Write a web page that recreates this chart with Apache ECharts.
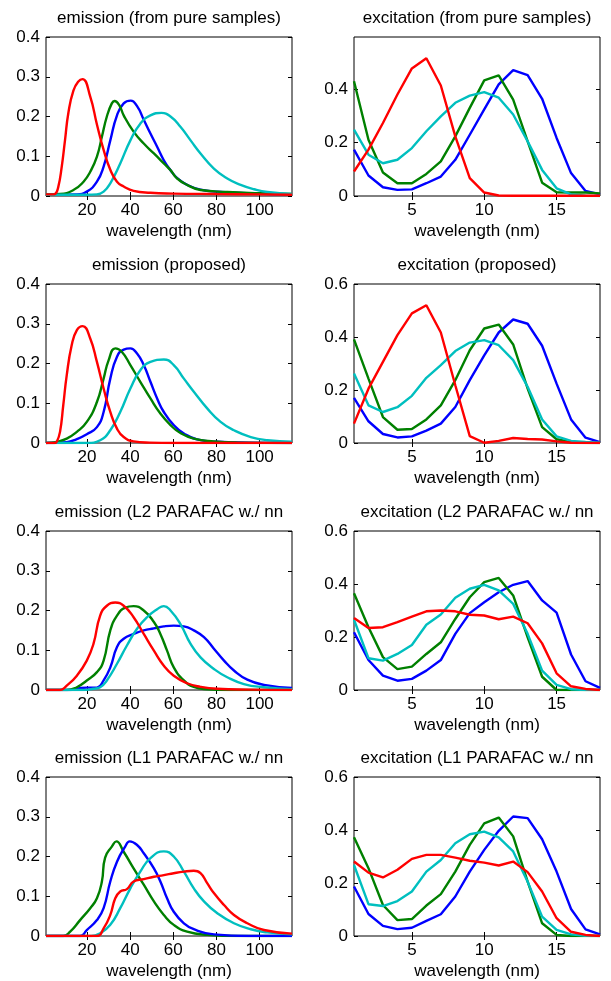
<!DOCTYPE html>
<html>
<head>
<meta charset="utf-8">
<script src="https://cdn.jsdelivr.net/npm/echarts@6/dist/echarts.min.js"></script>
<style>
html,body{margin:0;padding:0;background:#fff;}
#chart{width:611px;height:981px;}
</style>
</head>
<body>
<div id="chart"></div>
<script>
// ---------- tick labels ----------
const emTicks = [20, 40, 60, 80, 100];
const exTicks = [5, 10, 15];
const emYTicks = [0, 0.1, 0.2, 0.3, 0.4];
const exYTicks = [0, 0.2, 0.4, 0.6];
const titles = [
  'emission (from pure samples)', 'excitation (from pure samples)',
  'emission (proposed)', 'excitation (proposed)',
  'emission (L2 PARAFAC w./ nn', 'excitation (L2 PARAFAC w./ nn',
  'emission (L1 PARAFAC w./ nn', 'excitation (L1 PARAFAC w./ nn'
];
const xName = 'wavelength (nm)';

// ---------- emission data: [wavelength, value] ----------
const emPureRed = [[1,0.004],[4,0.004],[5.2,0.005],[6.7,0.023],[8.3,0.074],[9.8,0.14],[11.4,0.21],[13.7,0.265],[16,0.288],[17.9,0.294],[21.5,0.25],[24.6,0.18],[27.7,0.116],[30.8,0.066],[33.9,0.036],[37,0.024],[41.6,0.013],[49.4,0.008],[60,0.006],[80,0.005],[100,0.004],[115,0.003]];
const emPureGreen = [[1,0.004],[7.5,0.005],[13.7,0.015],[18.4,0.036],[21.5,0.061],[24.6,0.099],[26.9,0.149],[29.2,0.2],[31.5,0.233],[32.8,0.239],[35,0.228],[37,0.203],[41.6,0.162],[46.3,0.132],[51,0.107],[55.6,0.082],[58.7,0.065],[61.8,0.044],[66.4,0.028],[72.6,0.015],[85,0.01],[100,0.007],[115,0.005]];
const emPureBlue = [[1,0.003],[15,0.004],[19.9,0.011],[24.6,0.036],[27.7,0.074],[30.8,0.14],[33.9,0.203],[37,0.233],[40.3,0.24],[43.2,0.226],[46.3,0.192],[49.4,0.157],[52.5,0.124],[55.6,0.09],[58.7,0.065],[61.8,0.045],[66.4,0.028],[72.6,0.016],[80.4,0.011],[95.9,0.007],[115,0.004]];
const emPureCyan = [[1,0.003],[20,0.003],[24.6,0.004],[27.7,0.011],[30.8,0.032],[35.4,0.082],[40.1,0.14],[44.7,0.182],[49.4,0.203],[54.5,0.209],[58.7,0.2],[63.3,0.174],[68,0.14],[72.6,0.107],[78.8,0.069],[85,0.044],[91.2,0.028],[97.4,0.017],[103.6,0.01],[115,0.005]];

const emPropRed = [[1,0],[5,0],[6,0.003],[7.5,0.028],[9,0.095],[10.6,0.17],[12.9,0.246],[15.3,0.284],[18,0.294],[21.5,0.263],[24.6,0.204],[27.7,0.137],[30.8,0.078],[33.9,0.036],[37,0.015],[41.6,0.004],[49,0.001],[60,0],[115,0]];
const emPropGreen = [[1,0],[6,0.003],[10.6,0.011],[15.3,0.028],[19.9,0.053],[24.6,0.103],[27.7,0.162],[30,0.208],[33.1,0.238],[36.2,0.229],[40.1,0.196],[44.7,0.154],[49.4,0.112],[54,0.074],[58.7,0.045],[63.3,0.025],[69.5,0.011],[78.8,0.004],[90,0.001],[115,0]];
const emPropBlue = [[1,0],[10.6,0.002],[15.3,0.01],[19.9,0.022],[24.6,0.04],[27.7,0.078],[30.8,0.162],[33.9,0.217],[37,0.235],[40.1,0.238],[43.2,0.225],[46.3,0.196],[49.4,0.154],[52.5,0.112],[55.6,0.078],[60.2,0.045],[64.9,0.024],[71,0.009],[80.4,0.003],[95,0.001],[115,0]];
const emPropCyan = [[1,0],[20,0],[26.1,0.007],[30.8,0.032],[35.4,0.078],[40.1,0.137],[44.7,0.183],[49.4,0.204],[55.6,0.21],[60.2,0.196],[64.9,0.162],[69.5,0.129],[75.7,0.087],[81.9,0.053],[88.1,0.032],[95.9,0.015],[103.6,0.007],[115,0.003]];

const emL2Red = [[1,0],[7.5,0],[10.6,0.011],[15.3,0.036],[19.9,0.074],[23,0.116],[26.1,0.187],[29.2,0.212],[33.1,0.22],[37,0.212],[41.6,0.183],[46.3,0.141],[51,0.099],[55.6,0.061],[60.2,0.036],[66.4,0.017],[72.6,0.008],[80.4,0.003],[95,0.001],[115,0]];
const emL2Green = [[1,0],[10.6,0],[15.3,0.007],[19.9,0.024],[24.6,0.045],[27.7,0.074],[30.8,0.15],[33.9,0.187],[37.7,0.207],[41.6,0.211],[46.3,0.2],[51,0.171],[54,0.141],[57.1,0.099],[60.2,0.057],[64.9,0.024],[69.5,0.008],[75.7,0.002],[85,0],[115,0]];
const emL2Blue = [[1,0],[12,0],[16,0.004],[20,0.006],[24.6,0.006],[27.7,0.024],[30.8,0.057],[33.9,0.108],[37,0.129],[41.6,0.141],[46.3,0.15],[51,0.155],[55.6,0.16],[60.2,0.162],[64.9,0.16],[69.5,0.15],[74.2,0.133],[78.8,0.104],[83.5,0.074],[88.1,0.049],[94.3,0.026],[102,0.013],[115,0.005]];
const emL2Cyan = [[1,0],[18,0],[23,0.003],[26.1,0.007],[29.2,0.024],[33.9,0.066],[38.5,0.112],[43.2,0.154],[47.8,0.183],[52.5,0.203],[55.6,0.211],[58.7,0.2],[63.3,0.166],[68,0.116],[72.6,0.082],[78.8,0.053],[85,0.032],[92.7,0.015],[102,0.007],[115,0.002]];

const emL1Red = [[1,0],[24.6,0],[27.7,0.019],[30.8,0.053],[33.1,0.095],[35.4,0.112],[38.5,0.118],[41.6,0.137],[46.3,0.143],[51,0.149],[55.6,0.153],[60.2,0.158],[64.9,0.162],[69.5,0.164],[72.6,0.158],[75.7,0.133],[78.8,0.108],[83.5,0.078],[88.1,0.053],[94.3,0.032],[102,0.015],[115,0.006]];
const emL1Green = [[1,0],[9,0],[12.2,0.011],[16.8,0.04],[21.5,0.07],[24.6,0.095],[26.9,0.137],[28.4,0.197],[31.5,0.225],[33.6,0.238],[37,0.212],[41.6,0.17],[46.3,0.129],[51,0.087],[55.6,0.053],[60.2,0.028],[66.4,0.011],[75.7,0.003],[90,0],[115,0]];
const emL1Blue = [[1,0],[16.8,0],[19.9,0.015],[24.6,0.04],[27.7,0.07],[30.8,0.137],[33.9,0.187],[37.7,0.225],[39.8,0.238],[43.2,0.229],[46.3,0.208],[51,0.17],[54,0.137],[57.1,0.095],[60.2,0.061],[64.9,0.032],[69.5,0.017],[78.8,0.004],[95,0],[115,0]];
const emL1Cyan = [[1,0],[22,0],[26.1,0.007],[30.8,0.028],[35.4,0.07],[40.1,0.12],[44.7,0.162],[49.4,0.196],[55.6,0.213],[60.2,0.2],[64.9,0.162],[69.5,0.12],[74.2,0.087],[80.4,0.057],[88.1,0.032],[95.9,0.017],[103.6,0.009],[115,0.004]];

// ---------- excitation data: values at wavelengths 1..18 ----------
const exX = [1,2,3,4,5,6,7,8,9,10,11,12,13,14,15,16,17,18];
const exPureRed   = [0.092,0.174,0.274,0.381,0.479,0.517,0.415,0.224,0.067,0.013,0.002,0.001,0.001,0.001,0.001,0.001,0.001,0.001];
const exPureGreen = [0.431,0.211,0.088,0.048,0.048,0.083,0.13,0.224,0.331,0.434,0.453,0.362,0.205,0.05,0.014,0.013,0.013,0.01];
const exPureBlue  = [0.174,0.077,0.033,0.023,0.025,0.048,0.073,0.136,0.23,0.325,0.419,0.473,0.454,0.365,0.218,0.086,0.019,0.006];
const exPureCyan  = [0.249,0.155,0.123,0.136,0.18,0.243,0.299,0.35,0.377,0.39,0.369,0.306,0.205,0.098,0.029,0.006,0.001,0];

const exPropRed   = [0.073,0.205,0.306,0.407,0.489,0.52,0.417,0.218,0.026,0.001,0.008,0.019,0.015,0.013,0.006,0.001,0,0];
const exPropGreen = [0.391,0.243,0.098,0.05,0.053,0.089,0.142,0.237,0.35,0.432,0.447,0.372,0.205,0.06,0.014,0.004,0.001,0];
const exPropBlue  = [0.17,0.082,0.034,0.021,0.025,0.047,0.073,0.136,0.237,0.331,0.417,0.466,0.45,0.367,0.224,0.089,0.02,0.003];
const exPropCyan  = [0.262,0.142,0.117,0.135,0.178,0.246,0.294,0.347,0.379,0.388,0.369,0.313,0.212,0.089,0.025,0.008,0.004,0.001];

const exL2Red   = [0.272,0.234,0.237,0.256,0.277,0.297,0.3,0.297,0.284,0.281,0.267,0.277,0.252,0.176,0.063,0.014,0.004,0];
const exL2Green = [0.365,0.237,0.124,0.079,0.088,0.136,0.18,0.268,0.35,0.407,0.423,0.357,0.199,0.05,0,0,0,0];
const exL2Blue  = [0.218,0.113,0.054,0.035,0.042,0.073,0.113,0.212,0.29,0.331,0.369,0.397,0.411,0.338,0.292,0.134,0.033,0.008];
const exL2Cyan  = [0.265,0.12,0.111,0.136,0.17,0.246,0.285,0.348,0.382,0.397,0.376,0.325,0.212,0.073,0.019,0.003,0,0];

const exL1Red   = [0.281,0.239,0.221,0.25,0.291,0.306,0.306,0.296,0.284,0.277,0.266,0.281,0.241,0.168,0.067,0.016,0.004,0];
const exL1Green = [0.373,0.256,0.117,0.06,0.064,0.115,0.158,0.243,0.344,0.425,0.447,0.376,0.205,0.048,0.004,0,0,0];
const exL1Blue  = [0.187,0.083,0.038,0.026,0.031,0.057,0.082,0.149,0.243,0.325,0.397,0.451,0.445,0.365,0.243,0.102,0.025,0.006];
const exL1Cyan  = [0.268,0.12,0.113,0.132,0.168,0.243,0.287,0.35,0.384,0.394,0.372,0.319,0.205,0.073,0.023,0.006,0.001,0];

// ---------- build ----------
const COLORS = {red:'#ff0000', green:'#008000', blue:'#0000ff', cyan:'#00bfbf'};
const FONT = '"Liberation Sans", Arial, Helvetica, sans-serif';
const zipX = (ys) => ys.map((v, i) => [exX[i], v]);

const panels = [
  {t:0, em:true,  s:{blue:emPureBlue, green:emPureGreen, cyan:emPureCyan, red:emPureRed}},
  {t:1, em:false, ymax:0.597, s:{blue:zipX(exPureBlue), green:zipX(exPureGreen), cyan:zipX(exPureCyan), red:zipX(exPureRed)}},
  {t:2, em:true,  s:{blue:emPropBlue, green:emPropGreen, cyan:emPropCyan, red:emPropRed}},
  {t:3, em:false, ymax:0.6, s:{blue:zipX(exPropBlue), green:zipX(exPropGreen), cyan:zipX(exPropCyan), red:zipX(exPropRed)}},
  {t:4, em:true,  s:{blue:emL2Blue, green:emL2Green, cyan:emL2Cyan, red:emL2Red}},
  {t:5, em:false, ymax:0.6, s:{blue:zipX(exL2Blue), green:zipX(exL2Green), cyan:zipX(exL2Cyan), red:zipX(exL2Red)}},
  {t:6, em:true,  s:{green:emL1Green, blue:emL1Blue, cyan:emL1Cyan, red:emL1Red}},
  {t:7, em:false, ymax:0.6, s:{blue:zipX(exL1Blue), green:zipX(exL1Green), cyan:zipX(exL1Cyan), red:zipX(exL1Red)}}
];

const colLeft = [46, 354];
const rowTop = [37, 284, 531, 777];
const W = 246, H = 159;

const grid = [], xAxis = [], yAxis = [], series = [], graphic = [];
panels.forEach((p, i) => {
  const row = Math.floor(i / 2), col = i % 2;
  grid.push({left: colLeft[col], top: rowTop[row], width: W, height: H,
    show: true, borderColor: '#000', borderWidth: 1, backgroundColor: 'transparent', containLabel: false});
  const xmin = 1, xmax = p.em ? 115 : 18;
  const xt = p.em ? emTicks : exTicks;
  const ymax = p.em ? 0.4 : p.ymax;
  const yt = (p.em ? emYTicks : exYTicks).filter(v => v <= ymax + 1e-9);
  const base = {
    type: 'value', gridIndex: i, min: xmin, max: xmax,
    axisLine: {show: false}, splitLine: {show: false},
    axisTick: {show: true, inside: true, length: 4, lineStyle: {color: '#000', width: 1}, customValues: xt},
  };
  xAxis.push(Object.assign({}, base, {position: 'bottom',
    axisLabel: {show: true, customValues: xt, color: '#000', fontSize: 17, fontFamily: FONT, margin: 6},
    name: xName, nameLocation: 'middle', nameGap: 27,
    nameTextStyle: {color: '#000', fontSize: 17, fontFamily: FONT}}));
  xAxis.push(Object.assign({}, base, {position: 'top', axisLabel: {show: false}}));
  const ybase = {
    type: 'value', gridIndex: i, min: 0, max: ymax,
    axisLine: {show: false}, splitLine: {show: false},
    axisTick: {show: true, inside: true, length: 4, lineStyle: {color: '#000', width: 1}, customValues: yt},
  };
  yAxis.push(Object.assign({}, ybase, {position: 'left',
    axisLabel: {show: true, customValues: yt, color: '#000', fontSize: 17, fontFamily: FONT, margin: 6}}));
  yAxis.push(Object.assign({}, ybase, {position: 'right', axisLabel: {show: false}}));
  Object.keys(p.s).forEach(c => {
    series.push({type: 'line', xAxisIndex: 2 * i, yAxisIndex: 2 * i, data: p.s[c],
      showSymbol: false, symbol: 'none', smooth: p.em ? 0.5 : false,
      lineStyle: {color: COLORS[c], width: 2.4}, clip: true, silent: true, animation: false});
  });
  graphic.push({type: 'text', x: colLeft[col] + W / 2, y: rowTop[row] - 19,
    style: {text: titles[p.t], font: '17px ' + FONT, fill: '#000',
      textAlign: 'center', textVerticalAlign: 'middle', align: 'center', verticalAlign: 'middle'}});
});

const chart = echarts.init(document.getElementById('chart'), null, {renderer: 'canvas'});
chart.setOption({animation: false, backgroundColor: '#fff', grid, xAxis, yAxis, series, graphic});
</script>
</body>
</html>
